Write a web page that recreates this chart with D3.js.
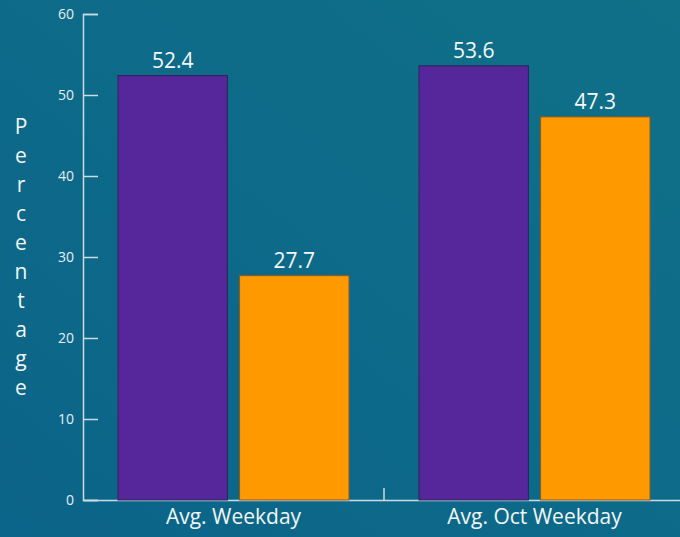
<!DOCTYPE html>
<html>
<head>
<meta charset="utf-8">
<script src="https://cdn.jsdelivr.net/npm/d3@7"></script>
<style>
  body { margin: 0; }
  svg { display: block; }
  svg text { font-family: "Open Sans", "Noto Sans", sans-serif; }
</style>
</head>
<body>
<svg id="chart"></svg>
<script>
// chart data
var categories = ["Avg. Weekday", "Avg. Oct Weekday"];
var seriesNames = ["first", "second"];
var firstValues = [52.4, 53.6];
var secondValues = [27.7, 47.3];
var yTicks = [0, 10, 20, 30, 40, 50, 60];
var yLabel = "Percentage";

var width = 680, height = 537;
var colors = { first: "#56279a", second: "#ff9900" };
var strokes = { first: "#2c2456", second: "#8a5a22" };

var svg = d3.select("#chart").attr("width", width).attr("height", height);

// background gradient
var defs = svg.append("defs");
var grad = defs.append("linearGradient")
  .attr("id", "bg").attr("x1", "1").attr("y1", "0").attr("x2", "0").attr("y2", "1");
grad.append("stop").attr("offset", "0%").attr("stop-color", "#107088");
grad.append("stop").attr("offset", "100%").attr("stop-color", "#0b6489");
svg.append("rect").attr("width", width).attr("height", height).attr("fill", "url(#bg)");

var rows = categories.map(function (c, i) {
  return { cat: c, values: [
    { key: "first", value: firstValues[i] },
    { key: "second", value: secondValues[i] }
  ] };
});

var x = d3.scaleBand().domain(categories).range([83, 685]).padding(0);
var xInner = d3.scaleBand().domain(seriesNames).range([35, 266]).paddingInner(0.1);
var y = d3.scaleLinear().domain([0, 60]).range([500, 14]);

var axisColor = "#c9dde6";

// y axis (ticks point inward)
var yAxis = svg.append("g")
  .attr("transform", "translate(83,0)")
  .call(d3.axisRight(y).tickValues(yTicks).tickSize(15).tickFormat(d3.format("d")));
yAxis.attr("font-family", null);
yAxis.select(".domain").attr("stroke", axisColor).attr("stroke-width", 1.5);
yAxis.selectAll(".tick line").attr("stroke", axisColor).attr("stroke-width", 1.5);
yAxis.selectAll(".tick text")
  .attr("x", -9).attr("text-anchor", "end")
  .attr("fill", "#e6eef2").style("font-size", "14px");

// x axis
var xAxis = svg.append("g")
  .attr("transform", "translate(0,500)")
  .call(d3.axisBottom(x).tickSize(0).tickSizeOuter(0));
xAxis.attr("font-family", null);
xAxis.select(".domain").attr("stroke", axisColor).attr("stroke-width", 1.5);
xAxis.selectAll(".tick text")
  .attr("y", 9).attr("dy", "0.71em")
  .attr("fill", "#f2f6f8").style("font-size", "21px");

// separator tick between groups
svg.append("line")
  .attr("x1", x(categories[1])).attr("x2", x(categories[1]))
  .attr("y1", 500).attr("y2", 488)
  .attr("stroke", axisColor).attr("stroke-width", 1.5);

// bars
var groups = svg.append("g").selectAll("g")
  .data(rows).enter().append("g")
  .attr("transform", function (d) { return "translate(" + x(d.cat) + ",0)"; });

groups.selectAll("rect")
  .data(function (d) { return d.values; })
  .enter().append("rect")
  .attr("x", function (d) { return xInner(d.key); })
  .attr("y", function (d) { return y(d.value); })
  .attr("width", xInner.bandwidth())
  .attr("height", function (d) { return y(0) - y(d.value); })
  .attr("fill", function (d) { return colors[d.key]; })
  .attr("stroke", function (d) { return strokes[d.key]; })
  .attr("stroke-width", 1);

groups.selectAll("text")
  .data(function (d) { return d.values; })
  .enter().append("text")
  .attr("x", function (d) { return xInner(d.key) + xInner.bandwidth() / 2; })
  .attr("y", function (d) { return y(d.value) - 8; })
  .attr("text-anchor", "middle")
  .attr("fill", "#f4f8fa")
  .style("font-size", "21px")
  .text(function (d) { return d.value.toFixed(1); });

// stacked y label
svg.append("text")
  .attr("fill", "#f2f6f8")
  .style("font-size", "21px")
  .attr("text-anchor", "middle")
  .selectAll("tspan")
  .data(yLabel.split(""))
  .enter().append("tspan")
  .attr("x", 21)
  .attr("y", function (d, i) { return 134 + i * 29; })
  .text(function (d) { return d; });
</script>
</body>
</html>
